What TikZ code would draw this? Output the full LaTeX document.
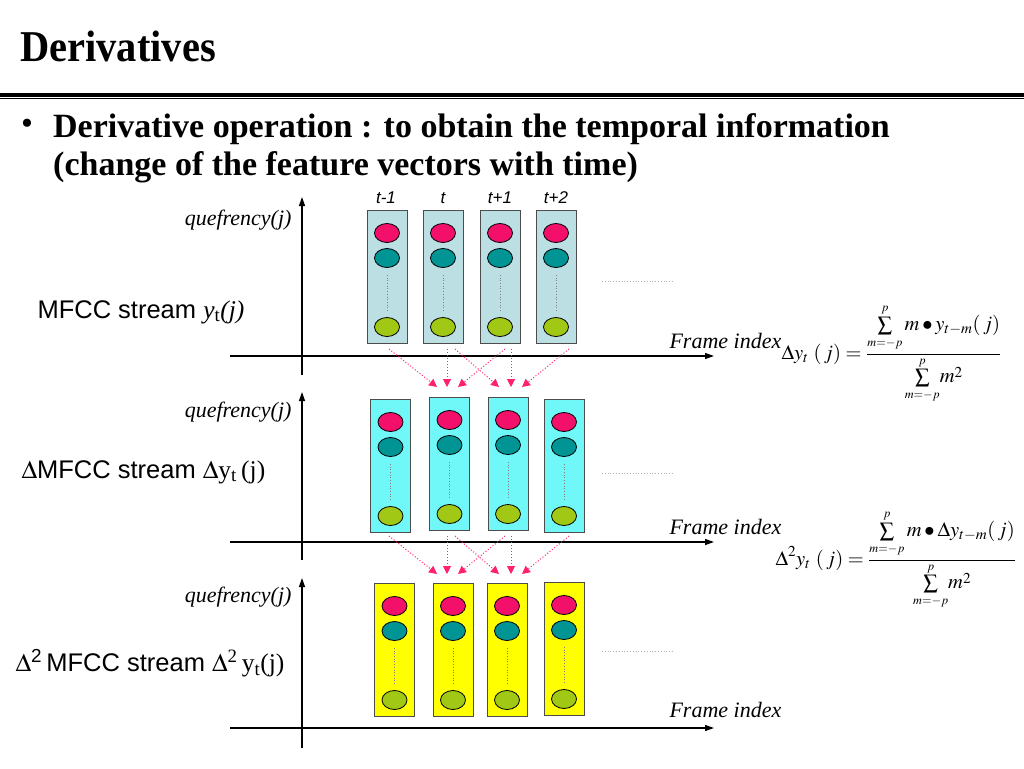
\documentclass[tikz,border=0pt]{standalone}
\usepackage{graphicx}
\usepackage{mathptmx}
\usepackage{fontspec}
\setmainfont{Liberation Serif}
\setsansfont{Liberation Sans}
\usetikzlibrary{shapes.geometric,arrows.meta}
\definecolor{frameA}{HTML}{BCDFE3}
\definecolor{frameB}{HTML}{70F8F8}
\definecolor{frameC}{HTML}{FFFF00}
\definecolor{coefred}{HTML}{F2106A}
\definecolor{coefteal}{HTML}{009494}
\definecolor{coefgreen}{HTML}{A0C814}
\definecolor{flowpink}{HTML}{FF2070}
\tikzset{
 vecbox/.style={draw=black!70,line width=0.9pt,minimum width=40pt,minimum height=133pt,anchor=north,inner sep=0pt},
 coef/.style={ellipse,draw=black,line width=0.8pt,minimum width=25pt,minimum height=19pt,inner sep=0pt},
 flow/.style={flowpink,dotted,line width=1pt,-{Triangle[length=8pt,width=8pt]}},
 axisline/.style={line width=1.3pt,-{Triangle[length=9pt,width=6pt]}},
 qlab/.style={anchor=east,font=\fontsize{22}{24}\selectfont\itshape},
 flab/.style={anchor=west,font=\fontsize{22}{24}\selectfont\itshape},
 slab/.style={anchor=west,font=\fontsize{25.5}{27}\selectfont\sffamily},
 eqn/.style={anchor=west,font=\fontsize{20.5}{22}\selectfont},
}
\newcommand{\msum}{\mathop{\sum}\limits_{\scriptscriptstyle m=-p}^{\scriptscriptstyle p}}
\begin{document}
\begin{tikzpicture}[x=1pt,y=-1pt,>=stealth]
\useasboundingbox[fill=white] (0,0) rectangle (1024,768);
% heading
\node[anchor=base west,inner sep=0pt] (title) at (20,62) {\scalebox{0.92}[1]{\fontsize{44}{46}\selectfont\bfseries Derivatives}};
\draw[line width=4pt] (0,94.5)--(1024,94.5);
\draw[line width=1pt] (0,98.8)--(1024,98.8);
\node[inner sep=0pt] (bul) at (27,127) {\fontsize{34}{34}\selectfont\textbullet};
\node[anchor=base west,inner sep=0pt] (lead1) at (53,137) {\fontsize{34}{36}\selectfont\bfseries Derivative operation : to obtain the temporal information};
\node[anchor=base west,inner sep=0pt] (lead2) at (53,175) {\fontsize{34}{36}\selectfont\bfseries (change of the feature vectors with time)};
% axes
\foreach \r/\t/\o/\b in {1/197/356/375,2/392/542/560,3/578/728/748}{
  \coordinate (yt\r) at (302,\t);
  \coordinate (yb\r) at (302,\b);
  \coordinate (xl\r) at (230,\o);
  \coordinate (xr\r) at (714,\o);
  \draw[axisline] (yb\r)--(yt\r);
  \draw[axisline] (xl\r)--(xr\r);
}
\foreach \y [count=\r] in {220,412,597}{\node[qlab] (q\r) at (295,\y) {quefrency(j)};}
\foreach \y [count=\r] in {341,527,710}{\node[flab] (fi\r) at (666,\y) {Frame index};}
\foreach \y in {281,473,651}{\draw[gray!60,dotted,line width=0.8pt] (602,\y)--(673,\y);}
% frame labels
\foreach \x/\s [count=\k] in {386/t-1,443/t,500/t+1,556/t+2}{
  \node[font=\fontsize{17}{18}\selectfont\sffamily\itshape] (t\k) at (\x,198) {\s};
}
% feature vectors
\foreach \r/\i/\x/\y/\c in {1/1/387/210/frameA,1/2/443/210/frameA,1/3/500/210/frameA,1/4/556/210/frameA,
  2/1/390.5/399/frameB,2/2/449.5/397/frameB,2/3/508/397/frameB,2/4/564/399/frameB,
  3/1/394.5/583/frameC,3/2/453/583/frameC,3/3/507/583/frameC,3/4/564/582/frameC}{
  \node[vecbox,fill=\c] (v\r\i) at (\x,\y) {};
  \node[coef,fill=coefred] (r\r\i) at (\x,\y+23) {};
  \node[coef,fill=coefteal] (g\r\i) at (\x,\y+48) {};
  \node[coef,fill=coefgreen] (l\r\i) at (\x,\y+117) {};
  \draw[gray,dotted,line width=0.7pt] ([yshift=-7pt]g\r\i.south)--([yshift=5pt]l\r\i.north);
}
% delta arrows
\foreach \a/\b [count=\k] in {389/437,447/447,455/499,505/458,511/511,569/522}{
  \coordinate (sa\k) at (\a,349);
  \coordinate (ea\k) at (\b,387);
  \coordinate (sb\k) at (\a,536);
  \coordinate (eb\k) at (\b,574);
  \draw[flow] (sa\k)--(ea\k);
  \draw[flow] (sb\k)--(eb\k);
}
% stream names
\node[slab] (s1) at (34,312) {MFCC stream {\rmfamily\itshape y\textsubscript{\upshape t}(j)}};
\node[slab] (s2) at (18,472) {{\rmfamily$\Delta$}MFCC stream {\rmfamily$\Delta$y\textsubscript{t}\,(j)}};
\node[slab] (s3) at (12,663) {{\rmfamily$\Delta$}\textsuperscript{2}\,MFCC stream {\rmfamily$\Delta$\textsuperscript{2}\,y\textsubscript{t}(j)}};
% formulas
\node[eqn] (eq1) at (778,354) {$\displaystyle \Delta y_t\ (\,j)=\frac{\msum m\bullet y_{t-m}(\,j)}{\msum\!m^2}$};
\node[eqn] (eq2) at (772,560) {$\displaystyle \Delta^2 y_t\ (\,j)=\frac{\msum m\bullet \Delta y_{t-m}(\,j)}{\msum\!m^2}$};
\end{tikzpicture}
\end{document}
